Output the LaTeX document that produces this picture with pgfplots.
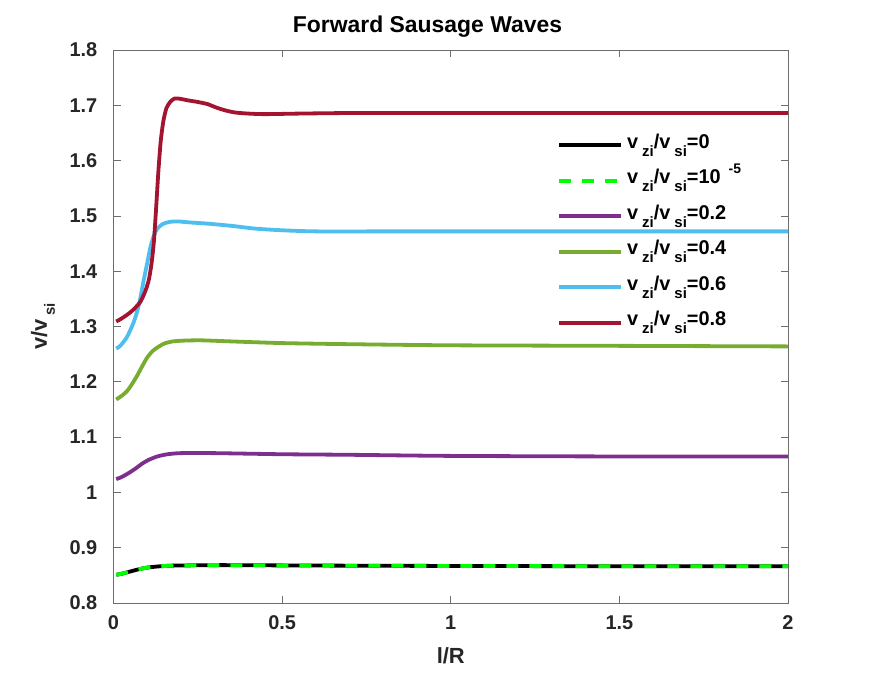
\documentclass[border=0pt]{standalone}
\usepackage{fontspec}
\setmainfont{Liberation Sans}
\usepackage{pgfplots}
\pgfplotsset{compat=1.18}
\definecolor{axisgray}{HTML}{6E6E6E}
\definecolor{txt}{HTML}{262626}
\definecolor{cred}{HTML}{A2142F}
\definecolor{cblue}{HTML}{4DBEEE}
\definecolor{cgreen}{HTML}{77AC30}
\definecolor{cpurple}{HTML}{7E2F8E}
\definecolor{clime}{HTML}{00FF00}
\newcommand{\vsub}[1]{v\raisebox{-8bp}{\hspace{4bp}\fontsize{15}{15}\selectfont #1}}
\begin{document}
\begin{tikzpicture}
\path[use as bounding box] (-113.5bp,-73bp) rectangle (758.5bp,603bp);
\begin{axis}[
  at={(0,0)}, anchor=south west,
  scale only axis, width=674.5bp, height=553bp,
  xmin=0, xmax=2, ymin=0.8, ymax=1.8,
  xtick={0,0.5,1,1.5,2}, xticklabels={0,0.5,1,1.5,2},
  ytick={0.8,0.9,1,1.1,1.2,1.3,1.4,1.5,1.6,1.7,1.8},
  yticklabels={0.8,0.9,1,1.1,1.2,1.3,1.4,1.5,1.6,1.7,1.8},
  tick align=inside, major tick length=7bp,
  axis line style={axisgray, line width=0.6bp},
  tick style={axisgray, line width=0.6bp},
  /pgf/number format/assume math mode=true,
  ticklabel style={font=\fontsize{20}{24}\selectfont\bfseries, text=txt},
  xticklabel style={anchor=base, yshift=-26bp, inner sep=0},
  yticklabel style={anchor=east, inner sep=0, xshift=-16bp},
  title={Forward Sausage Waves},
  title style={at={([yshift=12bp]axis description cs:0.4655,1)}, anchor=base, inner sep=0, font=\fontsize{23}{27}\selectfont\bfseries},
  xlabel={l/R},
  xlabel style={at={([yshift=-60bp]axis description cs:0.5,0)}, anchor=base, inner sep=0, font=\fontsize{22}{26}\selectfont\bfseries, text=txt},
  ylabel={v/v\raisebox{-8bp}{\hspace{4bp}\fontsize{15}{15}\selectfont si}},
  ylabel style={at={([xshift=-66.5bp]axis description cs:0,0.5)}, anchor=base, inner sep=0, font=\fontsize{22}{26}\selectfont\bfseries, text=txt},
  legend style={draw=none, fill=none, at={(0.658,0.8495)}, anchor=north west, inner sep=0, outer sep=0,
    font=\fontsize{20}{24}\selectfont\bfseries, row sep=11.5bp, column sep=4bp,
    nodes={text height=15bp, text depth=9bp, inner sep=0}},
  legend cell align=left,
  legend image code/.code={\draw[#1] (0bp,0bp) -- (62bp,0bp);},
  every axis plot/.append style={line width=3.8bp, smooth, tension=0.4},
]
\addplot[black] coordinates {
(0.008,0.851) (0.025,0.853) (0.05,0.857) (0.075,0.861) (0.1,0.864) (0.13,0.866) (0.17,0.8675) (0.22,0.868) (0.3,0.8685) (0.5,0.868) (0.7,0.8675) (1.0,0.867) (1.5,0.8665) (2.0,0.8665)
};
\addlegendentry{\vsub{zi}/\vsub{si}=0}
\addplot[clime, dash pattern=on 12bp off 11bp] coordinates {
(0.008,0.851) (0.025,0.853) (0.05,0.857) (0.075,0.861) (0.1,0.864) (0.13,0.866) (0.17,0.8675) (0.22,0.868) (0.3,0.8685) (0.5,0.868) (0.7,0.8675) (1.0,0.867) (1.5,0.8665) (2.0,0.8665)
};
\addlegendentry{\vsub{zi}/\vsub{si}=10\raisebox{10bp}{\hspace{8bp}\fontsize{14}{14}\selectfont -5}}
\addplot[cpurple] coordinates {
(0.008,1.024) (0.025,1.028) (0.045,1.035) (0.065,1.043) (0.085,1.052) (0.105,1.059) (0.13,1.065) (0.16,1.069) (0.2,1.071) (0.3,1.071) (0.5,1.069) (0.7,1.068) (1.0,1.066) (1.5,1.065) (2.0,1.065)
};
\addlegendentry{\vsub{zi}/\vsub{si}=0.2}
\addplot[cgreen] coordinates {
(0.008,1.168) (0.025,1.175) (0.04,1.183) (0.055,1.196) (0.07,1.211) (0.085,1.228) (0.1,1.244) (0.115,1.255) (0.13,1.262) (0.15,1.269) (0.175,1.273) (0.21,1.2745) (0.26,1.275) (0.35,1.273) (0.5,1.270) (0.7,1.268) (1.0,1.266) (1.5,1.265) (2.0,1.264)
};
\addlegendentry{\vsub{zi}/\vsub{si}=0.4}
\addplot[cblue] coordinates {
(0.008,1.260) (0.02,1.265) (0.04,1.281) (0.06,1.308) (0.075,1.338) (0.09,1.385) (0.1,1.415) (0.11,1.445) (0.12,1.465) (0.13,1.477) (0.145,1.485) (0.165,1.489) (0.19,1.490) (0.23,1.488) (0.28,1.486) (0.35,1.482) (0.42,1.477) (0.5,1.474) (0.6,1.472) (0.8,1.472) (1.0,1.472) (1.5,1.472) (2.0,1.472)
};
\addlegendentry{\vsub{zi}/\vsub{si}=0.6}
\addplot[cred] coordinates {
(0.008,1.309) (0.02,1.313) (0.04,1.321) (0.06,1.331) (0.08,1.345) (0.095,1.365) (0.105,1.385) (0.113,1.415) (0.12,1.455) (0.127,1.52) (0.133,1.58) (0.14,1.635) (0.148,1.672) (0.157,1.695) (0.168,1.706) (0.18,1.712) (0.195,1.712) (0.22,1.709) (0.25,1.706) (0.28,1.702) (0.30,1.697) (0.33,1.691) (0.36,1.687) (0.40,1.685) (0.45,1.684) (0.55,1.685) (0.7,1.686) (1.0,1.686) (1.5,1.686) (2.0,1.686)
};
\addlegendentry{\vsub{zi}/\vsub{si}=0.8}
\end{axis}
\end{tikzpicture}
\end{document}
